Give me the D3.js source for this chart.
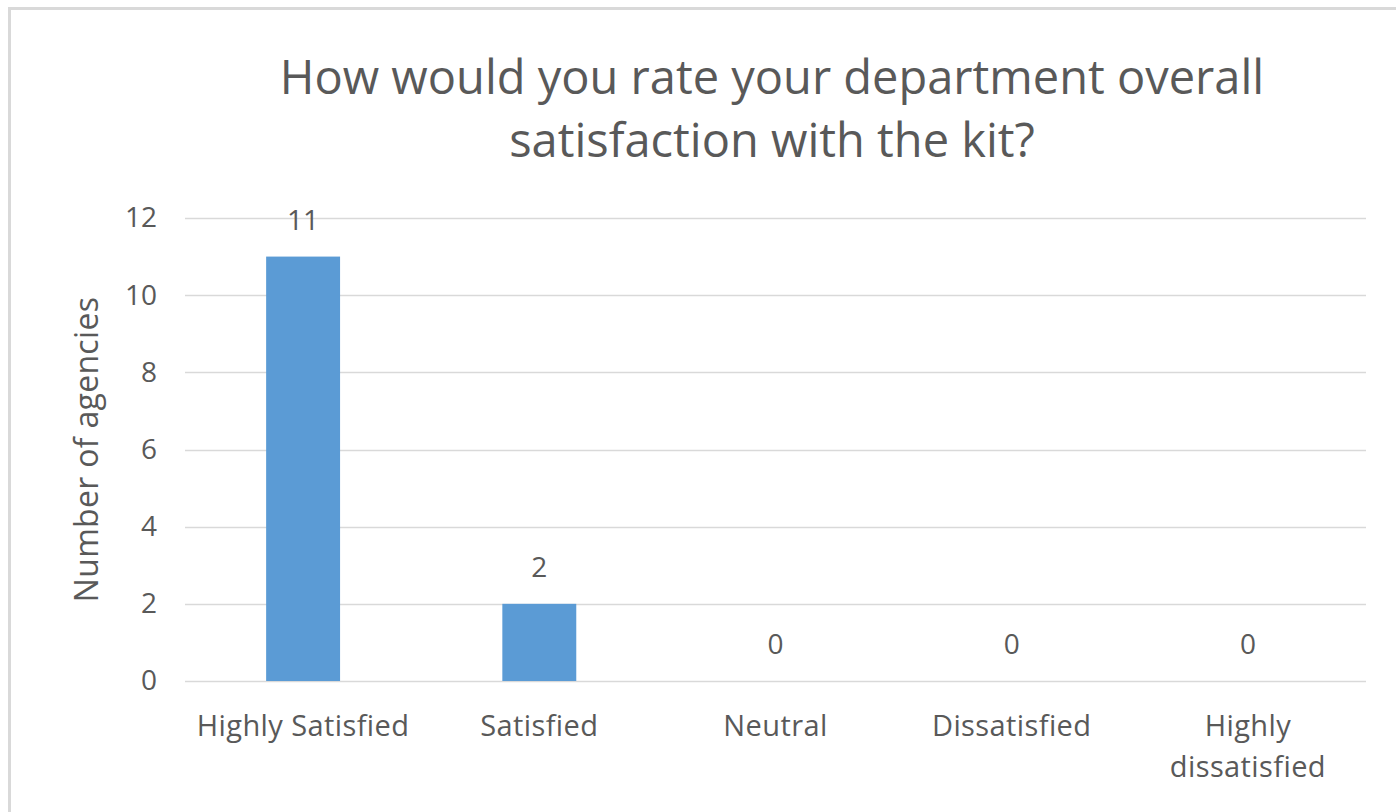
<!DOCTYPE html>
<html><head><meta charset="utf-8">
<script src="https://cdn.jsdelivr.net/npm/d3@7"></script>
<style>body{margin:0;background:#fff}svg{display:block}</style>
</head><body>
<svg id="c" width="1396" height="812"></svg>
<script>
const categories = ["Highly Satisfied", "Satisfied", "Neutral", "Dissatisfied", "Highly dissatisfied"];
const values = [11, 2, 0, 0, 0];
const yTicks = [0, 2, 4, 6, 8, 10, 12];
const titleLines = ["How would you rate your department overall", "satisfaction with the kit?"];
const yTitle = "Number of agencies";

(function () {
const svg = d3.select("#c");
const font = "'Open Sans', Lato, sans-serif";
const txt = "#595959";

svg.append("rect").attr("x", 9.5).attr("y", 8.5).attr("width", 1400).attr("height", 820)
  .attr("fill", "#fff").attr("stroke", "#d9d9d9").attr("stroke-width", 3);

const pLeft = 185, pRight = 1366, pTop = 218, pBottom = 681;
const x = d3.scaleBand().domain(categories).range([pLeft, pRight]).paddingInner(0.687).paddingOuter(0.3435);
const y = d3.scaleLinear().domain([0, 12]).range([pBottom, pTop]);

svg.append("g").selectAll("line").data(yTicks).join("line")
  .attr("x1", pLeft).attr("x2", pRight)
  .attr("y1", d => Math.round(y(d)) + 0.5).attr("y2", d => Math.round(y(d)) + 0.5)
  .attr("stroke", "#d9d9d9").attr("stroke-width", 1.5);

const ya = svg.append("g").attr("transform", `translate(${pLeft - 28},0)`)
  .call(d3.axisLeft(y).tickValues(yTicks).tickSize(0).tickPadding(0));
ya.select(".domain").remove();
ya.selectAll("text").attr("font-family", font).attr("font-size", 28).attr("fill", txt);

svg.append("g").selectAll("rect").data(values).join("rect")
  .attr("x", (d, i) => x(categories[i])).attr("width", x.bandwidth())
  .attr("y", d => y(d)).attr("height", d => y(0) - y(d))
  .attr("fill", "#5b9bd5");

svg.append("g").selectAll("text").data(values).join("text")
  .attr("x", (d, i) => x(categories[i]) + x.bandwidth() / 2)
  .attr("y", d => y(d) - 27)
  .attr("text-anchor", "middle").attr("font-family", font).attr("font-size", 28).attr("fill", txt)
  .text(d => d);

const xa = svg.append("g").attr("transform", `translate(0,${pBottom})`)
  .call(d3.axisBottom(x).tickSize(0).tickPadding(0));
xa.select(".domain").remove();
xa.selectAll("text").remove();
xa.selectAll(".tick").each(function(d) {
  const g = d3.select(this);
  const lines = d === "Highly dissatisfied" ? ["Highly", "dissatisfied"] : [d];
  lines.forEach((l, i) => {
    g.append("text").attr("y", 55 + i * 41).attr("text-anchor", "middle")
      .attr("font-family", font).attr("font-size", 29).attr("letter-spacing", 0.4).attr("fill", txt).text(l);
  });
});

svg.append("text").attr("transform", `translate(98,${(pTop + pBottom) / 2}) rotate(-90)`)
  .attr("text-anchor", "middle").attr("font-family", font).attr("font-size", 32).attr("letter-spacing", 0.3).attr("fill", txt)
  .text(yTitle);

svg.append("g").selectAll("text").data(titleLines).join("text")
  .attr("x", 772).attr("y", (d, i) => 94 + i * 63)
  .attr("text-anchor", "middle").attr("font-family", font).attr("font-size", 47).attr("fill", txt)
  .text(d => d);
})();
</script>
</body></html>
